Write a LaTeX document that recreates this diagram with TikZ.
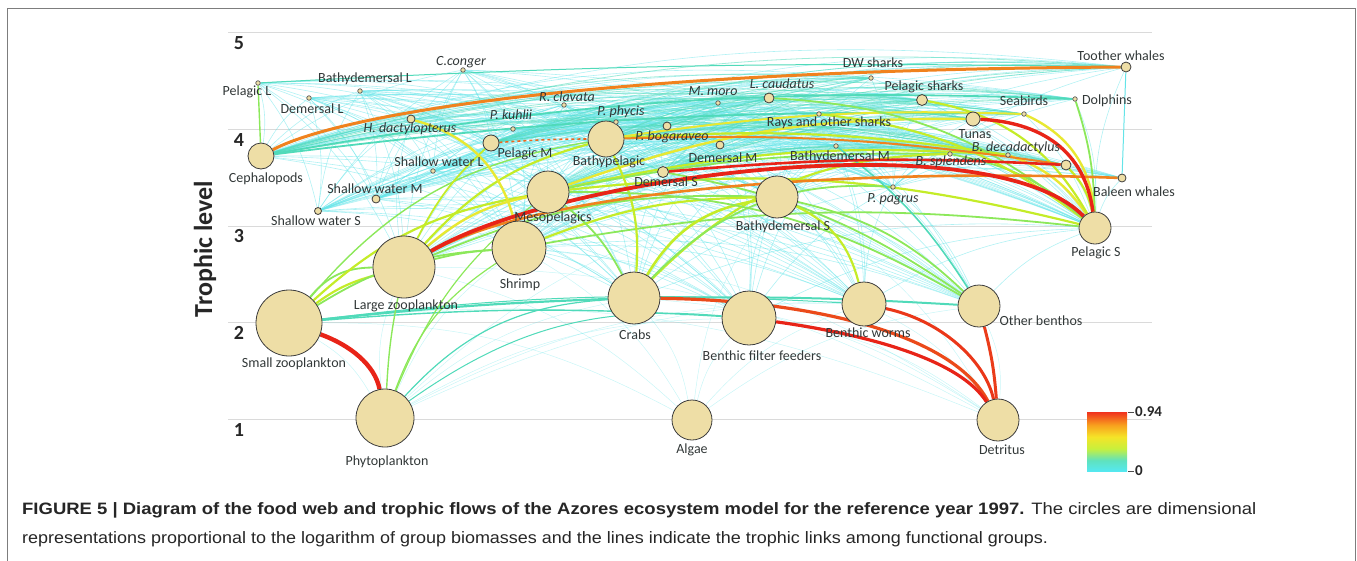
\documentclass[tikz,border=0pt]{standalone}
\usepackage{fontspec}
\setmainfont{Carlito}
\newfontfamily\capfont{Liberation Sans}
\pgfdeclarelayer{gridl}
\pgfdeclarelayer{edgel}
\pgfsetlayers{gridl,edgel,main}
\definecolor{bei}{RGB}{238,222,166}
\definecolor{rim}{RGB}{60,60,60}
\definecolor{txt}{RGB}{50,56,56}
\definecolor{cya}{RGB}{100,228,232}
\definecolor{aqu}{RGB}{80,218,185}
\definecolor{grn}{RGB}{140,232,90}
\definecolor{ylg}{RGB}{196,236,40}
\definecolor{yel}{RGB}{232,232,50}
\definecolor{org}{RGB}{240,130,30}
\definecolor{redl}{RGB}{232,36,24}
\definecolor{gridc}{RGB}{218,218,218}
\definecolor{framec}{RGB}{125,125,125}
\definecolor{cbz}{RGB}{85,232,240}
\definecolor{cba}{RGB}{95,226,190}
\definecolor{cbb}{RGB}{200,240,60}
\definecolor{cbc}{RGB}{245,228,40}
\definecolor{cbd}{RGB}{248,160,30}
\definecolor{cbe}{RGB}{240,50,30}
\pgfdeclareverticalshading{cbar}{100bp}{color(0bp)=(cbz); color(25bp)=(cbz); color(34bp)=(cba); color(44bp)=(cbb); color(54bp)=(cbc); color(64bp)=(cbd); color(75bp)=(cbe); color(100bp)=(cbe)}
\newcommand\arcl[3]{%
  \pgfpointanchor{#1}{center}\pgfgetlastxy{\xa}{\ya}%
  \pgfpointanchor{#2}{center}\pgfgetlastxy{\xb}{\yb}%
  \ifdim\xa<\xb\relax \draw[#3] (#1) to (#2);\else \draw[#3] (#2) to (#1);\fi}
\begin{document}
\begin{tikzpicture}[x=1pt,y=-1pt,
  bub/.style={circle, draw=rim, fill=bei, line width=0.8pt, inner sep=0pt, minimum size=#1},
  dotn/.style={circle, draw=rim!85, fill=bei, line width=0.7pt, inner sep=0pt, minimum size=4.5pt},
  lab/.style={text=txt, font=\fontsize{14}{16}\selectfont, inner sep=0pt},
  ilab/.style={text=txt, font=\fontsize{14}{16}\selectfont\itshape, inner sep=0pt},
  lev/.style={text=black!85, font=\fontsize{20}{22}\selectfont\bfseries, inner sep=0pt},
  capt/.style={anchor=base west, text=black!85, font=\capfont\fontsize{16.5}{18}\selectfont, inner sep=0pt},
  mesh/.style={draw=cya, line width=0.6pt, opacity=0.5, bend left=12},
  mesha/.style={draw=aqu, line width=0.8pt, opacity=0.55, bend left=10},
  meshl/.style={draw=cya, line width=0.5pt, opacity=0.35, bend left=14},
  eA/.style={draw=aqu, line width=1.6pt},
  eB/.style={draw=grn, line width=1.8pt},
  eC/.style={draw=ylg, line width=2.2pt},
  eD/.style={draw=yel, line width=2.4pt},
  eE/.style={draw=org, line width=3pt},
  eF/.style={draw=redl, line width=3.8pt}]
\useasboundingbox (0,0) rectangle (1357,560);
% frame
\draw[framec, line width=1.5pt] (7.5,561) -- (7.5,8.5) -- (1355.5,8.5) -- (1355.5,561);
% circles
\node[bub=66pt] (sz) at (289,323) {};
\node[bub=58pt] (phy) at (385,418) {};
\node[bub=62pt] (lz) at (404,267) {};
\node[bub=54pt] (shr) at (519,248) {};
\node[bub=42pt] (meso) at (548,192) {};
\node[bub=36pt] (bp) at (606,139) {};
\node[bub=42pt] (bds) at (777,197) {};
\node[bub=52pt] (crab) at (634,298) {};
\node[bub=54pt] (bff) at (749,318) {};
\node[bub=44pt] (bwo) at (864,304) {};
\node[bub=42pt] (ob) at (979,306) {};
\node[bub=40pt] (alg) at (692,420) {};
\node[bub=42pt] (det) at (998,420) {};
\node[bub=32pt] (pS) at (1095,228) {};
\node[bub=26pt] (ceph) at (261,156) {};
\node[bub=14pt] (tun) at (973,119) {};
\node[bub=16pt] (pm) at (491,143) {};
\node[bub=11pt] (ds) at (663,172) {};
\node[bub=11pt] (pshk) at (922,100) {};
\node[bub=10pt] (lc) at (769,98) {};
\node[bub=10pt] (tw) at (1126,67) {};
\node[bub=10pt] (bx) at (1066,165) {};
\node[bub=8pt] (hd) at (411,119) {};
\node[bub=8pt] (swm) at (376,199) {};
\node[bub=7pt] (sws) at (318,211) {};
\node[bub=8pt] (dm) at (720,145) {};
\node[bub=8pt] (pb) at (667,126) {};
\node[bub=8pt] (bw) at (1122,178) {};
\node[dotn] (pl) at (258,83) {};
\node[dotn] (dl) at (309,98) {};
\node[dotn] (bdl) at (360,91) {};
\node[dotn] (cc) at (463,70) {};
\node[dotn] (pk) at (513,129) {};
\node[dotn] (swl) at (433,171) {};
\node[dotn] (rc) at (564,105) {};
\node[dotn] (pp) at (616,122) {};
\node[dotn] (mm) at (718,103) {};
\node[dotn] (dws) at (871,78) {};
\node[dotn] (ray) at (819,114) {};
\node[dotn] (bdm) at (836,146) {};
\node[dotn] (bsp) at (950,154) {};
\node[dotn] (ppag) at (893,187) {};
\node[dotn] (dol) at (1075,99) {};
\node[dotn] (sb) at (1024,114) {};
\node[dotn] (bdc) at (1008,155) {};
% labels
\node[lab] (Lsz) at (294,364) {Small zooplankton};
\node[lab] (Lphy) at (387,462) {Phytoplankton};
\node[lab] (Llz) at (406,306) {Large zooplankton};
\node[lab] (Lshr) at (520,285) {Shrimp};
\node[lab] (Lmeso) at (553,218) {Mesopelagics};
\node[lab] (Lbp) at (609,162) {Bathypelagic};
\node[lab] (Lpm) at (525,154) {Pelagic M};
\node[lab] (Lds) at (666,182) {Demersal S};
\node[lab] (Ldm) at (723,158) {Demersal M};
\node[ilab] (Lpb) at (672,137) {P. bogaraveo};
\node[ilab] (Lpp) at (621,112) {P. phycis};
\node[ilab] (Lpk) at (511,115) {P. kuhlii};
\node[ilab] (Lrc) at (567,97) {R. clavata};
\node[ilab] (Lhd) at (410,129) {H. dactylopterus};
\node[ilab] (Lcc) at (461,62) {C.conger};
\node[lab] (Lbdl) at (365,79) {Bathydemersal L};
\node[lab] (Ldl) at (312,109) {Demersal L};
\node[lab] (Lpl) at (247,92) {Pelagic L};
\node[lab] (Lceph) at (266,179) {Cephalopods};
\node[lab] (Lswl) at (439,162) {Shallow water L};
\node[lab] (Lswm) at (375,189) {Shallow water M};
\node[lab] (Lsws) at (316,221) {Shallow water S};
\node[ilab] (Lmm) at (713,91) {M. moro};
\node[ilab] (Llc) at (782,84) {L. caudatus};
\node[lab] (Ldws) at (873,63) {DW sharks};
\node[lab] (Lpshk) at (924,87) {Pelagic sharks};
\node[lab] (Lray) at (829,123) {Rays and other sharks};
\node[lab] (Lbdm) at (840,157) {Bathydemersal M};
\node[ilab] (Lbsp) at (951,162) {B. splendens};
\node[ilab] (Lppag) at (893,199) {P. pagrus};
\node[lab] (Lbds) at (783,227) {Bathydemersal S};
\node[lab] (Ltw) at (1121,56) {Toother whales};
\node[lab] (Lsb) at (1024,101) {Seabirds};
\node[lab] (Ldol) at (1107,101) {Dolphins};
\node[lab] (Ltun) at (975,134) {Tunas};
\node[ilab] (Lbdc) at (1016,148) {B. decadactylus};
\node[lab] (Lbw) at (1134,192) {Baleen whales};
\node[lab] (LpS) at (1096,253) {Pelagic S};
\node[lab] (Lcrab) at (635,335) {Crabs};
\node[lab] (Lbff) at (762,356) {Benthic filter feeders};
\node[lab] (Lbwo) at (868,333) {Benthic worms};
\node[lab] (Lob) at (1041,321) {Other benthos};
\node[lab] (Lalg) at (692,450) {Algae};
\node[lab] (Ldet) at (1002,450) {Detritus};
% axis
\node[lev] (n5) at (239,43) {5};
\node[lev] (n4) at (239,140) {4};
\node[lev] (n3) at (239,236) {3};
\node[lev] (n2) at (239,333) {2};
\node[lev] (n1) at (239,430) {1};
\node[rotate=90, text=black!85, font=\fontsize{26}{28}\selectfont\bfseries, inner sep=0pt] (ylab) at (205,249) {Trophic level};
% grid
\begin{pgfonlayer}{gridl}
\foreach \yy in {32,129,226,322,419} \draw[gridc, line width=1pt] (228,\yy) -- (1152,\yy);
\end{pgfonlayer}
% edges
\begin{pgfonlayer}{edgel}
\foreach \a in {tw,dol,sb,pshk,dws,tun,ray,lc,mm,cc,pl,dl,bdl,hd,pk,rc,pp,pb,dm,bdm,bsp,bdc,bx,bw}{
  \foreach \b in {ceph,pm,bp,meso,ds,bds,pS,shr,lz,swl,swm,sws,ppag}{\arcl{\a}{\b}{mesh}}}
\foreach \a in {tw,dol,sb,pshk,tun,lc,dws,bsp,bdc,bx}{
  \foreach \b in {ceph,meso,bp,pm,ds}{\arcl{\a}{\b}{mesha}}}
\foreach \a in {bds,ds,ppag,swm,sws,swl,dm,bdm,rc,ray,pk,mm,ceph,hd,dl,bdl,meso,shr,pS,cc}{
  \foreach \b in {crab,bff,bwo,ob}{\arcl{\a}{\b}{mesh}}}
\foreach \a in {crab,bff,bwo,ob,shr,lz,sz,bds}{
  \foreach \b in {det,phy,alg}{\arcl{\a}{\b}{meshl}}}
% aqua / green / yellow
\arcl{sz}{crab}{eA, line width=2.2pt, bend left=2}
\arcl{sz}{bff}{eA, line width=1.4pt, bend left=4}
\arcl{crab}{ob}{eA, line width=2pt, bend left=2}
\arcl{sz}{bwo}{eA, line width=1pt, bend left=5}
\arcl{phy}{lz}{eB, line width=1.4pt, bend left=4}
\arcl{phy}{shr}{eB, line width=1.2pt, bend left=18}
\arcl{phy}{crab}{eA, line width=1.2pt, bend left=22}
\arcl{phy}{meso}{eB, line width=1.2pt, bend left=14}
\arcl{phy}{bff}{eA, line width=1pt, bend left=20}
\arcl{ceph}{pl}{eB, line width=1.4pt, bend left=0}
\arcl{pl}{tw}{eA, line width=1pt, bend left=2}
\arcl{ceph}{dol}{eA, line width=1.8pt, bend left=6}
\arcl{ceph}{sb}{eA, line width=1.8pt, bend left=4}
\arcl{tw}{bw}{draw=cya, line width=1pt, bend left=0}
\arcl{sz}{lz}{eC, bend left=10}
\arcl{sz}{lz}{eB, bend left=25}
\arcl{sz}{shr}{eB, bend left=14}
\arcl{sz}{meso}{eC, bend left=16}
\arcl{sz}{bp}{eB, line width=1.4pt, bend left=20}
\arcl{lz}{shr}{eB, bend left=5}
\arcl{lz}{meso}{eD, bend left=14}
\arcl{lz}{bp}{eC, bend left=16}
\arcl{lz}{bds}{eB, bend left=12}
\arcl{lz}{pm}{eC, line width=1.8pt, bend left=10}
\arcl{shr}{bds}{eC, bend left=10}
\arcl{shr}{pS}{eB, bend left=8}
\arcl{meso}{pS}{eC, bend left=10}
\arcl{meso}{tun}{eD, bend left=10}
\arcl{meso}{bdc}{eC, bend left=8}
\arcl{meso}{bsp}{eB, bend left=6}
\arcl{bp}{bdc}{eC, bend left=6}
\arcl{bp}{sb}{eD, line width=2pt, bend left=5}
\arcl{crab}{bds}{eC, line width=2.6pt, bend left=25}
\arcl{crab}{bp}{eC, bend left=15}
\arcl{crab}{bsp}{eC, bend left=22}
\arcl{crab}{ppag}{eB, bend left=25}
\arcl{crab}{meso}{eB, bend left=12}
\arcl{ob}{meso}{eB, bend left=15}
\arcl{ob}{bds}{eB, bend left=15}
\arcl{ob}{ds}{eB, bend left=12}
\arcl{ob}{bdm}{eA, bend left=10}
\arcl{bds}{bwo}{eC, bend left=25}
\arcl{hd}{shr}{eD, bend left=30}
\arcl{sb}{pS}{eD, bend left=30}
\arcl{dol}{pS}{eB, bend left=8}
\arcl{bdc}{pS}{eD, bend left=18}
\arcl{bx}{pS}{eC, bend left=15}
\arcl{pshk}{pS}{eC, bend left=25}
\arcl{bsp}{pS}{eB, bend left=15}
\arcl{ray}{pS}{eC, bend left=15}
\arcl{lc}{pS}{eB, bend left=18}
% orange / red
\draw[eE, dashed, line width=1.6pt, draw=org!70!redl] (pm) to[bend left=2] (bp);
\arcl{bp}{bx}{eE, line width=2pt, bend left=5}
\arcl{ds}{bx}{eF, line width=2.6pt, bend left=4}
\draw[eE] (ceph) .. controls (340,114) and (600,70) .. (tw);
\draw[eE, line width=2.6pt] (lz) .. controls (540,190) and (850,168) .. (bw);
\draw[eF] (lz) .. controls (560,175) and (990,120) .. (pS);
\draw[eF, line width=3.4pt] (tun) .. controls (1040,122) and (1085,150) .. (pS);
\draw[eF, line width=4.4pt] (sz) .. controls (350,345) and (375,365) .. (phy);
\draw[eE, line width=3.2pt, draw=redl!60!org] (crab) .. controls (800,300) and (950,330) .. (det);
\draw[eF, line width=3.2pt] (bff) .. controls (870,335) and (960,360) .. (det);
\draw[eF, line width=3pt, draw=redl!80!org] (bwo) .. controls (940,320) and (985,360) .. (det);
\arcl{ob}{det}{eF, line width=3pt, draw=redl!75!org, bend left=5}
\end{pgfonlayer}
% colour bar
\shade[shading=cbar] (1087,412) rectangle (1127,471);
\draw[black!70, line width=1pt] (1128,412) -- (1134,412) coordinate (t1);
\draw[black!70, line width=1pt] (1128,471) -- (1134,471) coordinate (t0);
\node[anchor=west, text=black!85, font=\fontsize{15}{17}\selectfont\bfseries, inner sep=1pt] (c94) at (t1) {0.94};
\node[anchor=west, text=black!85, font=\fontsize{15}{17}\selectfont\bfseries, inner sep=1pt] (c0) at (t0) {0};
% caption
\node[capt] (cap1) at (22,514) {\scalebox{1.12}[1]{\textbf{FIGURE 5 | Diagram of the food web and trophic flows of the Azores ecosystem model for the reference year 1997.} The circles are dimensional}};
\node[capt] (cap2) at (22,543) {\scalebox{1.09}[1]{representations proportional to the logarithm of group biomasses and the lines indicate the trophic links among functional groups.}};
\end{tikzpicture}
\end{document}
